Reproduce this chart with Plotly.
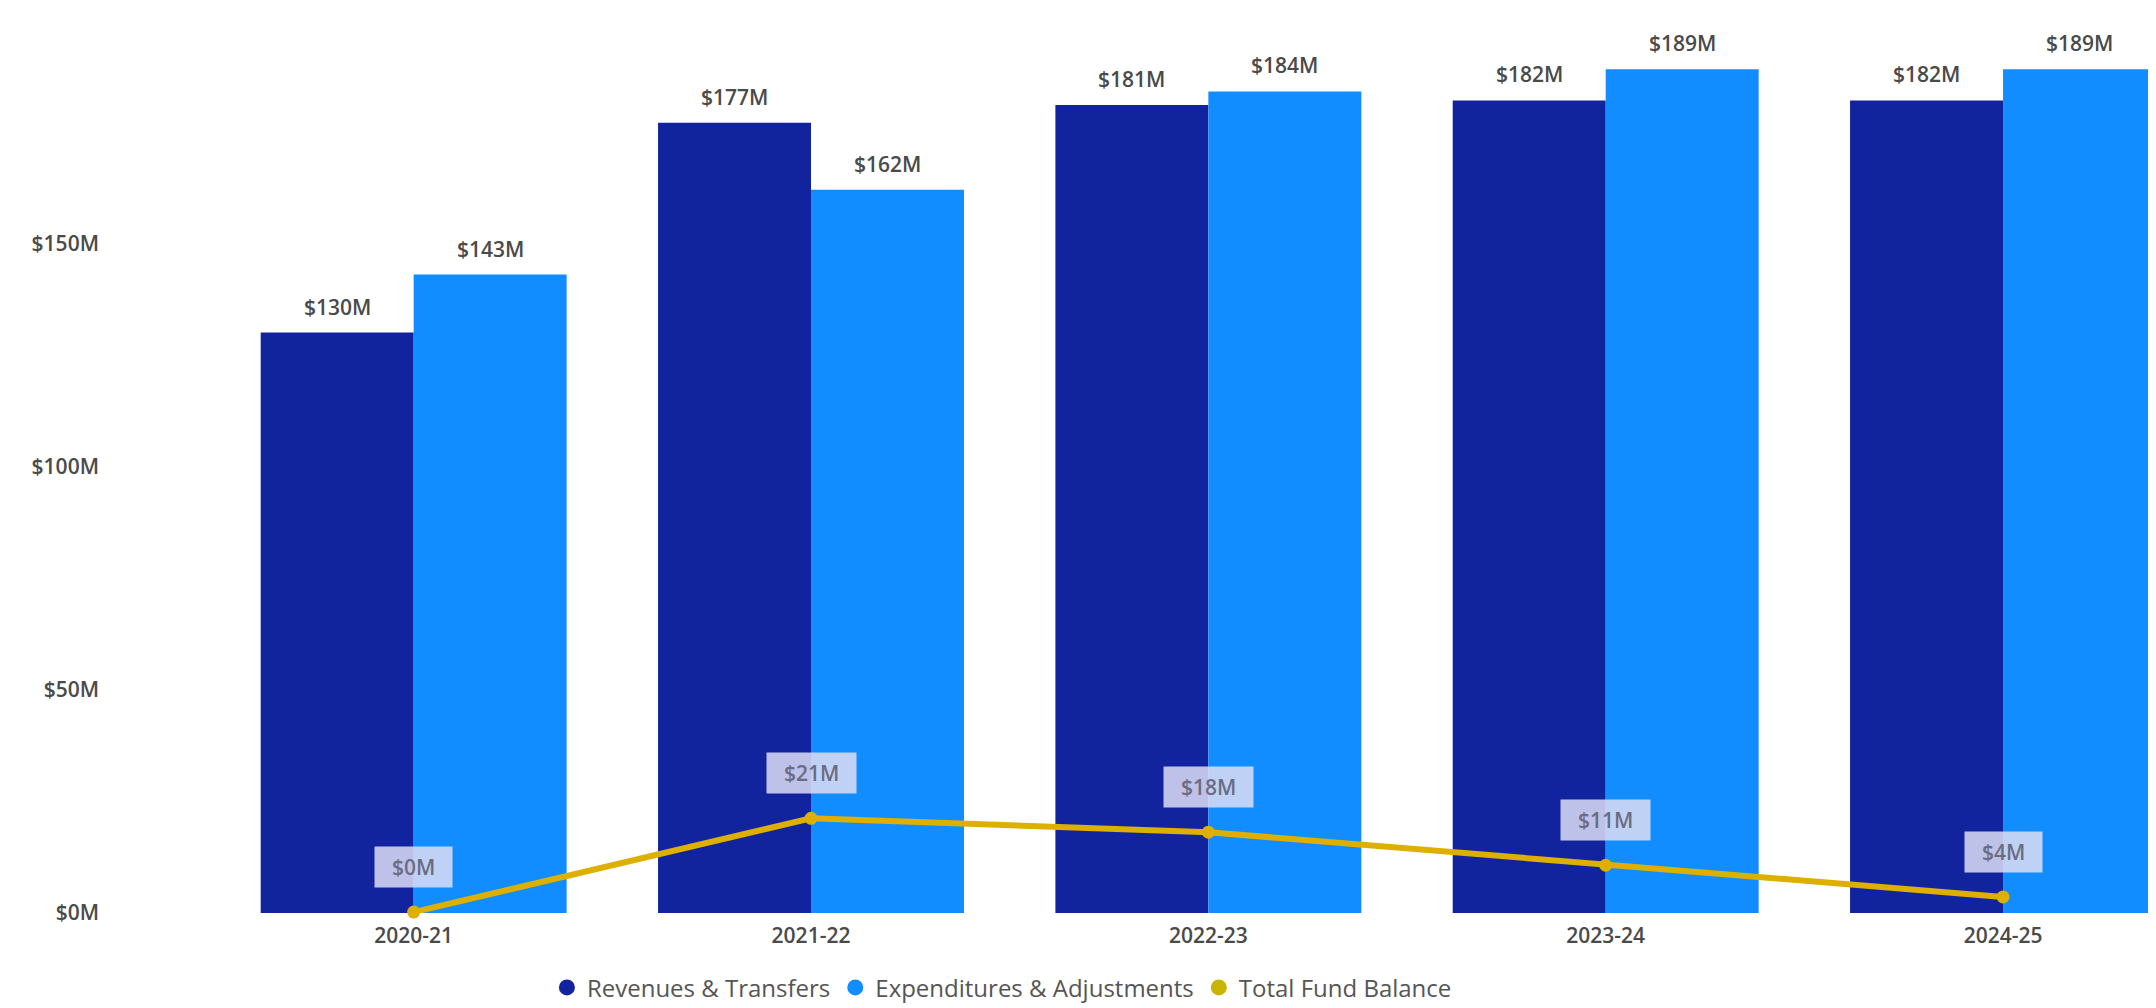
import plotly.graph_objects as go

# -----------------------
# DATA
# -----------------------
years = ["2020-21", "2021-22", "2022-23", "2023-24", "2024-25"]
revenues = [130, 177, 181, 182, 182]          # $M
expenditures = [143, 162, 184, 189, 189]      # $M
fund_balance = [0.2, 21.2, 18.1, 10.7, 3.6]   # $M
y_ticks = [0, 50, 100, 150]

NAVY = "#12239E"
BLUE = "#118DFF"
GOLD = "#DDB000"
TXT = "#4a4a4a"
FONT = "Open Sans"

bargap = 0.23
half = (1 - bargap) / 4   # centre offset of each bar in a group

fig = go.Figure()

fig.add_trace(go.Bar(x=years, y=revenues, name="Revenues & Transfers",
                     marker_color=NAVY, marker_line_width=0, showlegend=False))
fig.add_trace(go.Bar(x=years, y=expenditures, name="Expenditures & Adjustments",
                     marker_color=BLUE, marker_line_width=0, showlegend=False))

# fund balance line
fig.add_trace(go.Scatter(
    x=years, y=fund_balance, mode="lines+markers",
    line=dict(color=GOLD, width=6), marker=dict(size=13, color=GOLD),
    name="Total Fund Balance", showlegend=False, cliponaxis=False
))

# legend entries (circles)
for name, col in [("Revenues & Transfers", NAVY),
                  ("Expenditures & Adjustments", BLUE),
                  ("Total Fund Balance", "#C9B400")]:
    fig.add_trace(go.Scatter(x=[None], y=[None], mode="markers", name=name,
                             marker=dict(size=17, color=col, symbol="circle")))

# bar value labels
for i, (r, e) in enumerate(zip(revenues, expenditures)):
    for xv, v in [(i - half, r), (i + half, e)]:
        fig.add_annotation(x=xv, y=v, text=f"${v:.0f}M", showarrow=False,
                           yanchor="bottom", yshift=10,
                           font=dict(family=FONT, size=21, color=TXT, weight=600))

# line value labels
for i, v in enumerate(fund_balance):
    fig.add_annotation(x=i, y=v, text=f"&nbsp;&nbsp;${v:.0f}M&nbsp;&nbsp;",
                       showarrow=False, yanchor="bottom", yshift=24,
                       bgcolor="rgba(222,222,244,0.85)", borderpad=6,
                       font=dict(family=FONT, size=21, color="#6c6c80", weight=600))

fig.update_layout(
    width=2156, height=1008,
    margin=dict(l=207, r=6, t=25, b=93),
    plot_bgcolor="white", paper_bgcolor="white",
    barmode="group", bargap=bargap, bargroupgap=0,
    font=dict(family=FONT, color=TXT),
    legend=dict(orientation="h", x=0.405, xanchor="center", y=-0.085,
                yanchor="middle", font=dict(family=FONT, size=24, color="#555"),
                itemwidth=30, traceorder="normal"),
    xaxis=dict(range=[-0.5, 4.39], showgrid=False, showline=False,
               ticks="", ticklabelstandoff=8,
               tickfont=dict(size=21, color=TXT, weight=600)),
    yaxis=dict(range=[0, 197.1], tickvals=y_ticks,
               ticktext=[f"${t}M" for t in y_ticks],
               showgrid=False, zeroline=False, showline=False,
               ticklabelstandoff=115,
               tickfont=dict(size=21, color=TXT, weight=600)),
)

fig.write_html("out.html")
